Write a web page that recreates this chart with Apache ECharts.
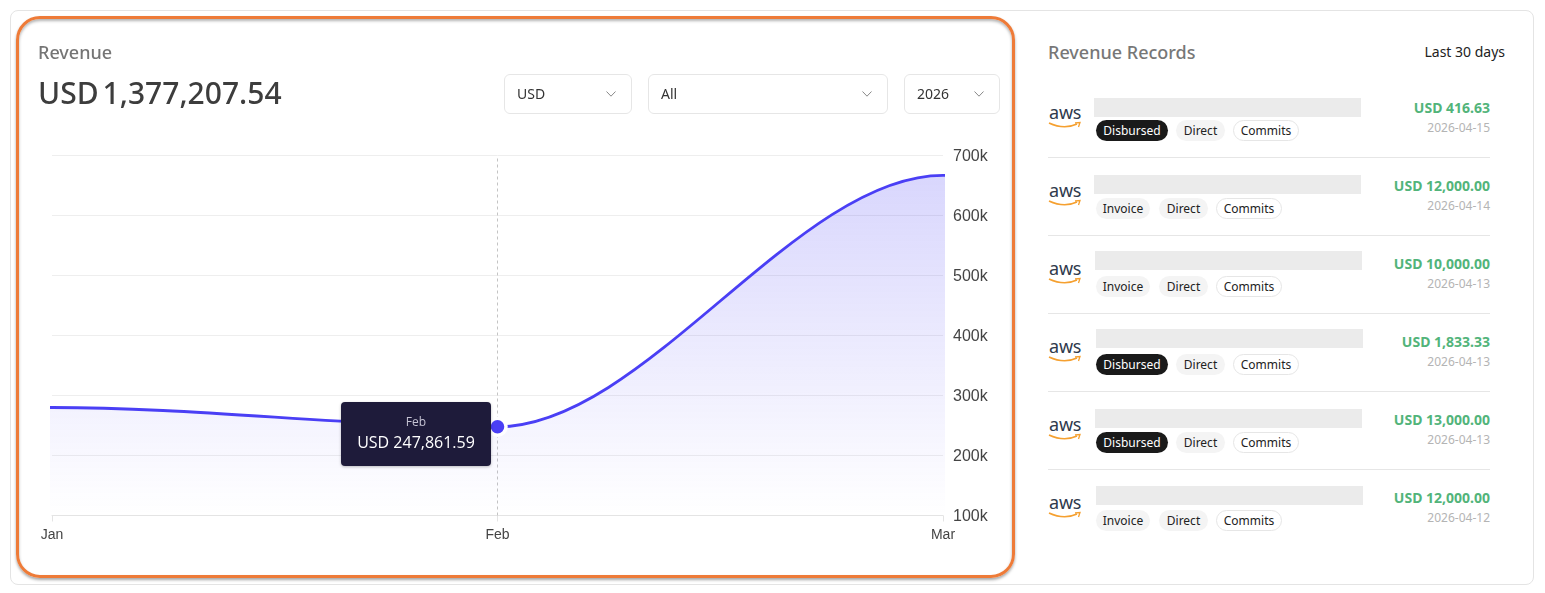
<!DOCTYPE html>
<html>
<head>
<meta charset="utf-8">
<title>Revenue</title>
<script src="https://cdn.jsdelivr.net/npm/echarts@6/dist/echarts.min.js"></script>
<style>
  html, body { margin: 0; padding: 0; background: #fff; }
  body { width: 1545px; height: 593px; position: relative; overflow: hidden; font-family: "Noto Sans", "Open Sans", sans-serif; }
  .abs { position: absolute; white-space: nowrap; }
  #card { left: 9.5px; top: 9.5px; width: 1524px; height: 575px; border: 1px solid #e4e4e4; border-radius: 8px; box-sizing: border-box; }
  #focus { left: 16px; top: 16px; width: 999px; height: 562px; border: 3.5px solid #ee7b38; border-radius: 24px; box-sizing: border-box; box-shadow: 0 2px 3px rgba(0,0,0,.35), inset 0 2px 3px rgba(0,0,0,.3); }
  #chart { left: 0; top: 0; width: 1030px; height: 593px; }
  #title { left: 38px; top: 40px; font-size: 18px; line-height: 25px; color: #757575; font-weight: 500; }
  #total { left: 38px; top: 72px; font-size: 30px; line-height: 42px; color: #3d3d3d; font-weight: 500; }
  #total span { margin-right: 4px; }
  .select { top: 74px; height: 40px; border: 1px solid #e6e6e6; border-radius: 6px; box-sizing: border-box; font-size: 14px; line-height: 38px; color: #333; padding-left: 12px; }
  .select svg { position: absolute; top: 16px; right: 15px; }
  #recTitle { left: 1048px; top: 40px; font-size: 18px; line-height: 25px; color: #777; font-weight: 500; }
  #recRange { right: 40px; top: 42px; font-size: 14px; line-height: 20px; color: #222; }
  .divider { left: 1048px; width: 442px; height: 1px; background: #e6e6e6; }
  .bar { height: 19px; background: #ebebeb; }
  .aws { left: 1049px; font-size: 18px; line-height: 20px; color: #2f3a4c; letter-spacing: -.2px; }
  .chip { height: 21px; line-height: 21px; font-size: 12px; border-radius: 11px; box-sizing: border-box; text-align: center; color: #222; }
  .chip.dark { background: #1a1a1a; color: #fff; }
  .chip.soft { background: #f4f4f4; }
  .chip.line { border: 1px solid #e6e6e6; background: #fff; line-height: 19px; }
  .amount { right: 55px; font-size: 14px; line-height: 18px; font-weight: 700; color: #52b47a; }
  .date { right: 55px; font-size: 12px; line-height: 16px; color: #b4b4b4; }
</style>
</head>
<body>
<div id="card" class="abs"></div>
<div id="focus" class="abs"></div>
<div id="chart" class="abs"></div>
<div id="title" class="abs">Revenue</div>
<div id="total" class="abs"><span>USD</span>1,377,207.54</div>
<div id="selects"></div>
<div id="recTitle" class="abs">Revenue Records</div>
<div id="recRange" class="abs">Last 30 days</div>
<div id="records"></div>
<script>
const months = ['Jan', 'Feb', 'Mar']
const revenue = [280000, 247861.59, 667000]
const activeIndex = 1

const LINE_COLOR = '#4a3ff5'
const AXIS_FONT = '"Liberation Sans", Arial, sans-serif'

const filterLabels = ['USD', 'All', '2026']
const filterLeft = [504, 648, 904]
const filterWidth = [128, 240, 96]

const recordAmounts = ['USD 416.63', 'USD 12,000.00', 'USD 10,000.00', 'USD 1,833.33', 'USD 13,000.00', 'USD 12,000.00']
const recordDates = ['2026-04-15', '2026-04-14', '2026-04-13', '2026-04-13', '2026-04-13', '2026-04-12']
const recordStatus = ['Disbursed', 'Invoice', 'Invoice', 'Disbursed', 'Disbursed', 'Invoice']

// grey redaction blocks are not quite aligned in the original
const blockLeft = [1094, 1094, 1095, 1096, 1095, 1096]
const blockTop = [98, 175, 251, 329, 409, 486]
const chipLayout = {
  Disbursed: [[1096, 72], [1176, 49], [1233, 66]],
  Invoice: [[1096, 54], [1159, 49], [1216, 66]]
}

function el(parent, cls, style, text) {
  const d = document.createElement('div')
  d.className = 'abs ' + cls
  Object.assign(d.style, style)
  if (text) d.textContent = text
  parent.appendChild(d)
  return d
}

const selects = document.getElementById('selects')
filterLabels.forEach((label, i) => {
  const d = el(selects, 'select', { left: filterLeft[i] + 'px', width: filterWidth[i] + 'px' }, label)
  d.insertAdjacentHTML('beforeend', '<svg width="10" height="6" viewBox="0 0 10 6"><path d="M.5 .5 L5 5.2 L9.5 .5" fill="none" stroke="#888" stroke-width="1"/></svg>')
})

const records = document.getElementById('records')
recordAmounts.forEach((amount, i) => {
  const y = 78 * i
  if (i < recordAmounts.length - 1) el(records, 'divider', { top: 157 + y + 'px' })
  el(records, 'bar', { left: blockLeft[i] + 'px', top: blockTop[i] + 'px', width: '267px' })
  el(records, 'aws', { top: 102 + y + 'px' }, 'aws')
  const smile = el(records, '', { left: '1048px', top: 121 + y + 'px' })
  smile.innerHTML = '<svg width="33" height="9" viewBox="0 0 33 9" style="display:block"><path d="M1 2 Q16 9 29 3" fill="none" stroke="#f5a030" stroke-width="1.6"/><path d="M27 2 L32 1.5 L30.5 6" fill="none" stroke="#f5a030" stroke-width="1.3"/></svg>'
  const status = recordStatus[i]
  const names = [status, 'Direct', 'Commits']
  const classes = [status === 'Disbursed' ? 'dark' : 'soft', 'soft', 'line']
  names.forEach((name, j) => {
    const pos = chipLayout[status][j]
    el(records, 'chip ' + classes[j], { left: pos[0] + 'px', top: 120 + y + 'px', width: pos[1] + 'px' }, name)
  })
  el(records, 'amount', { top: 99 + y + 'px' }, amount)
  el(records, 'date', { top: 120 + y + 'px' }, recordDates[i])
})

const chart = echarts.init(document.getElementById('chart'), null, { renderer: 'canvas' })

// one repeated point off each end of the axis, clipped away, so the smooth line leaves Jan and reaches Mar flat
const lastIndex = revenue.length - 1
const linePoints = [
  [-1, revenue[0]],
  ...revenue.map((v, i) => [i, v]),
  [lastIndex + 1, revenue[lastIndex]]
]
const activePoint = activeIndex + 1

chart.setOption({
  animation: false,
  grid: { left: 52, top: 155.5, width: 891, height: 360, containLabel: false },
  tooltip: {
    trigger: 'axis',
    alwaysShowContent: true,
    transitionDuration: 0,
    backgroundColor: '#1e1b3a',
    borderWidth: 0,
    borderRadius: 4,
    padding: 0,
    extraCssText: 'box-shadow:0 1px 3px rgba(0,0,0,.25);',
    position: (pt, params, dom, rect, size) => [pt[0] - size.contentSize[0] - 6.5, chart.convertToPixel({ yAxisIndex: 0 }, revenue[activeIndex]) - 25],
    formatter: params => {
      const p = params[0]
      const money = p.value[1].toLocaleString('en-US', { minimumFractionDigits: 2, maximumFractionDigits: 2 })
      return '<div style="width:150px;height:64px;box-sizing:border-box;padding-top:11px;text-align:center;font-family:\'Open Sans\',sans-serif;">' +
        '<div style="font-size:12px;line-height:17px;color:#c5c3d3;">' + months[p.value[0]] + '</div>' +
        '<div style="font-size:16px;line-height:24px;color:#fff;">USD ' + money + '</div></div>'
    }
  },
  xAxis: {
    type: 'value',
    min: 0,
    max: lastIndex,
    interval: 1,
    splitLine: { show: false },
    axisLine: { lineStyle: { color: '#e4e4e4', width: 1 } },
    axisTick: { show: true, length: 6, lineStyle: { color: '#e4e4e4' } },
    axisLabel: { color: '#444', fontFamily: AXIS_FONT, fontSize: 14, margin: 13, showMinLabel: true, showMaxLabel: true, formatter: v => months[v] },
    axisPointer: { type: 'line', z: 1, snap: true, label: { show: false }, lineStyle: { color: '#c4c4c4', width: 1, type: [3, 3] } }
  },
  yAxis: {
    type: 'value',
    position: 'right',
    min: 100000,
    max: 700000,
    interval: 100000,
    axisLine: { show: false },
    axisTick: { show: false },
    splitLine: { lineStyle: { color: '#eeeeee', width: 1 } },
    axisLabel: { color: '#444', fontFamily: AXIS_FONT, fontSize: 16, margin: 10, verticalAlign: 'top', lineHeight: 2, formatter: v => v / 1000 + 'k' }
  },
  series: [{
    type: 'line',
    z: 5,
    data: linePoints,
    smooth: 0.33,
    smoothMonotone: 'x',
    symbol: 'circle',
    showAllSymbol: true,
    symbolSize: (v, p) => (p.dataIndex === activePoint ? 15.5 : 0),
    itemStyle: { color: LINE_COLOR, borderColor: '#fff', borderWidth: 3.5 },
    lineStyle: { color: LINE_COLOR, width: 2.8 },
    areaStyle: {
      opacity: 1,
      color: new echarts.graphic.LinearGradient(0, 0, 0, 1, [
        { offset: 0, color: 'rgba(74,63,245,0.21)' },
        { offset: 1, color: 'rgba(74,63,245,0)' }
      ])
    },
    emphasis: { disabled: true }
  }]
})

chart.dispatchAction({ type: 'showTip', seriesIndex: 0, dataIndex: activePoint })
</script>
</body>
</html>
